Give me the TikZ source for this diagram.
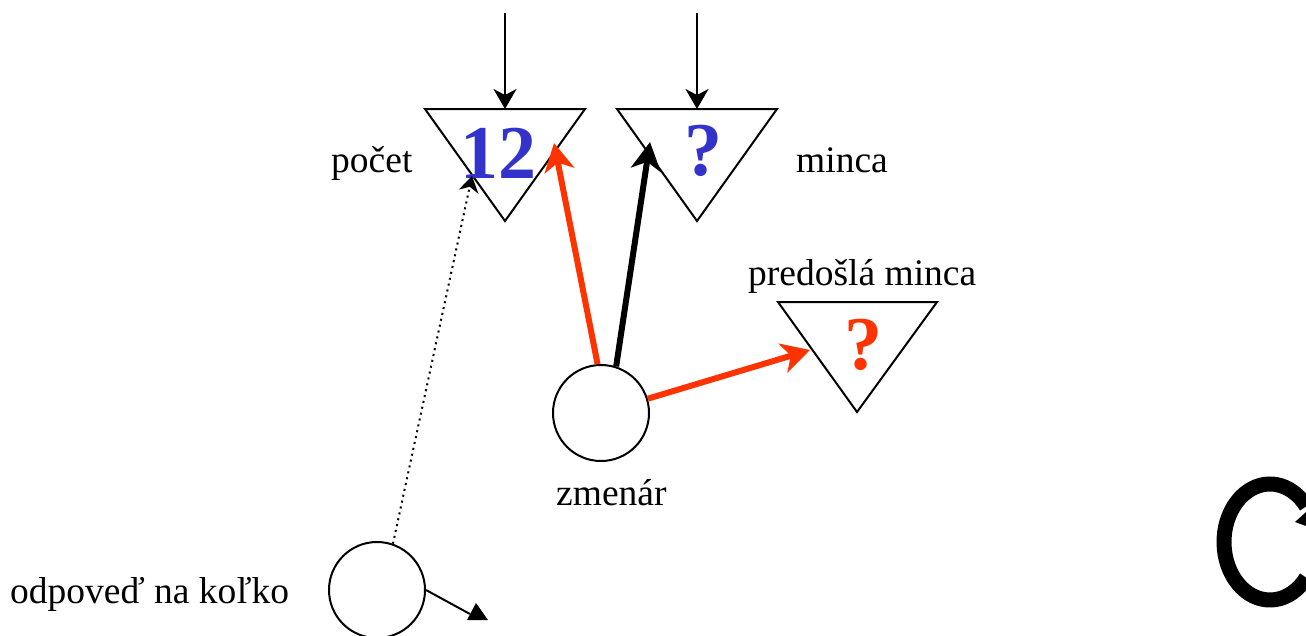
\documentclass[tikz,border=0pt]{standalone}
\usepackage{fontspec}
\setmainfont{Liberation Serif}
\usetikzlibrary{arrows.meta}
\definecolor{myblue}{RGB}{51,51,204}
\definecolor{myred}{RGB}{255,51,0}
\begin{document}
\begin{tikzpicture}[x=1pt,y=-1pt,
  lbl/.style={inner sep=0pt,anchor=base west,font=\fontsize{37.5}{40}\selectfont},
  big/.style={inner sep=0pt,anchor=base,font=\fontsize{76}{80}\selectfont\bfseries},
  tri/.style={draw=black,line width=2pt,line join=miter},
  ball/.style={circle,draw=black,line width=2pt,minimum size=96pt,inner sep=0pt},
  thinarr/.style={line width=2pt,-{Stealth[length=20pt,width=23pt,inset=6pt]}},
  thickarr/.style={line width=6pt,-{Stealth[length=28pt,width=30pt,inset=8pt]}},
  dotarr/.style={line width=2pt,dash pattern=on 2pt off 4pt,-{Stealth[length=16pt,width=20pt,inset=5pt]}}
]
\useasboundingbox (0,0) rectangle (1306,635);
% triangles
\coordinate (t1l) at (425,109); \coordinate (t1r) at (585,109); \coordinate (t1b) at (505,221);
\coordinate (t2l) at (617,109); \coordinate (t2r) at (777,109); \coordinate (t2b) at (697,221);
\coordinate (t3l) at (778,302); \coordinate (t3r) at (937,302); \coordinate (t3b) at (857,412);
\draw[tri] (t1l) -- (t1r) -- (t1b) -- cycle;
\draw[tri] (t2l) -- (t2r) -- (t2b) -- cycle;
\draw[tri] (t3l) -- (t3r) -- (t3b) -- cycle;
\coordinate (t1top) at (505,109);
\coordinate (t2top) at (697,109);
\coordinate (in1) at (505,13);
\coordinate (in2) at (697,13);
% values
\node[big,text=myblue] (v1) at (498,178) {12};
\node[big,text=myblue] (v2) at (703,175) {?};
\node[big,text=myred] (v3) at (863,369) {?};
% labels
\node[lbl] (lpocet) at (331,172) {počet};
\node[lbl] (lminca) at (796,172) {minca};
\node[lbl] (lpred) at (748,285) {predošlá minca};
\node[lbl] (lzm) at (556,505) {zmenár};
\node[lbl] (lodp) at (10,603) {odpoveď na koľko};
% circles
\node[ball] (zm) at (601,413) {};
\node[ball] (od) at (377,590) {};
% arrow targets
\coordinate (r1) at (554,143);
\coordinate (b1) at (650,142);
\coordinate (r2) at (810,350);
\coordinate (d1) at (472,176);
\coordinate (o1) at (470,614);
% arrows
\draw[thinarr] (in1) -- (t1top);
\draw[thinarr] (in2) -- (t2top);
\draw[thickarr,myred] (zm.94) -- (r1);
\draw[thickarr,black] (zm.72) -- (b1);
\draw[thickarr,myred] (zm.17) -- (r2);
\draw[dotarr] (od.71) -- (d1);
\draw[line width=2pt] (od.east) -- (o1);
\fill (467,620) -- (488,620) -- (476,603) -- cycle;
% circular symbol at right
\begin{scope}
\clip (0,0) rectangle (1306,635);
\draw[line width=15pt] (1270,542) ++(38:46 and 58) arc[start angle=38,end angle=322,x radius=46,y radius=58];
\fill (1306,512) -- (1295,522) -- (1306,526) -- cycle;
\end{scope}
\end{tikzpicture}
\end{document}
